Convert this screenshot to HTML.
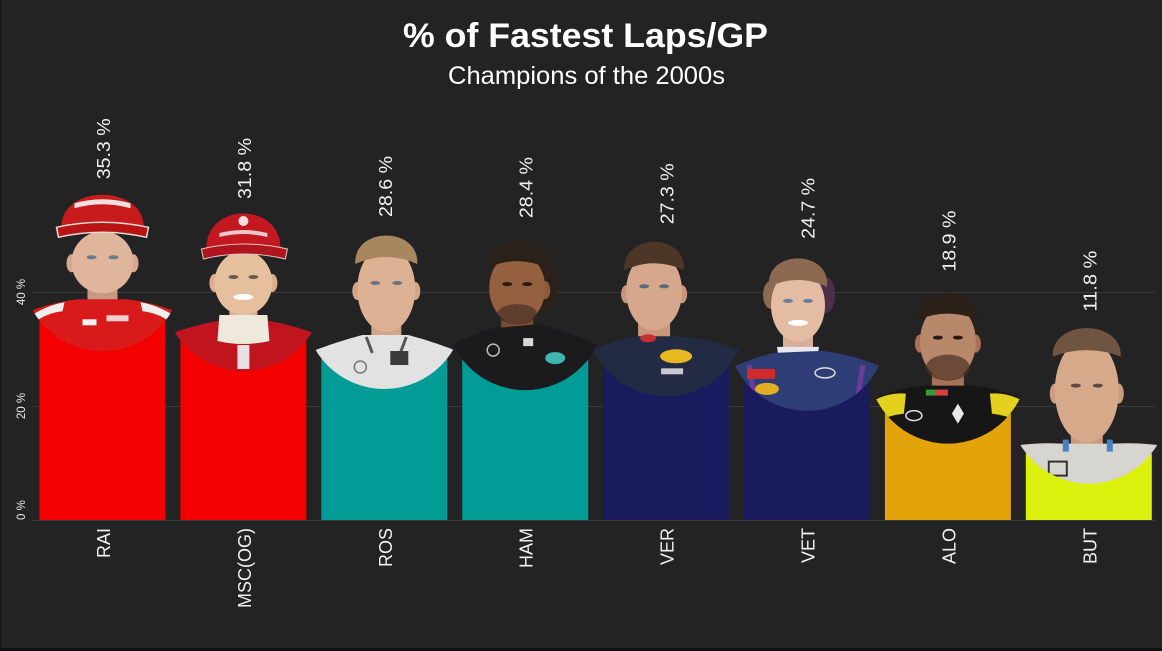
<!DOCTYPE html>
<html><head><meta charset="utf-8"><style>
html,body{margin:0;padding:0;background:#232323;}
svg{display:block;}
text{font-family:"Liberation Sans",sans-serif;}
</style></head><body>
<svg width="1162" height="651" viewBox="0 0 1162 651" xmlns="http://www.w3.org/2000/svg">
<defs><clipPath id="c" clipPathUnits="userSpaceOnUse"><circle cx="0" cy="0" r="80"/></clipPath></defs>
<rect x="0" y="0" width="1162" height="651" fill="#232323"/>
<rect x="0" y="0" width="1" height="651" fill="#161616"/>
<rect x="0" y="648" width="1162" height="3" fill="#0f0f0f"/>
<!-- grid -->
<g stroke="#3a3a3a" stroke-width="1">
<line x1="33" y1="292.5" x2="1155" y2="292.5"/>
<line x1="33" y1="406.5" x2="1155" y2="406.5"/>
<line x1="33" y1="520.5" x2="1155" y2="520.5"/>
</g>
<!-- title -->
<text x="585.5" y="47" text-anchor="middle" font-size="34" font-weight="bold" fill="#ffffff" textLength="365" lengthAdjust="spacingAndGlyphs">% of Fastest Laps/GP</text>
<text x="586.5" y="84" text-anchor="middle" font-size="25" fill="#ffffff" textLength="277" lengthAdjust="spacingAndGlyphs">Champions of the 2000s</text>
<!-- y ticks -->
<g font-size="11.5" fill="#e6e6e6">
<text transform="translate(25,292) rotate(-90)" text-anchor="middle">40 %</text>
<text transform="translate(25,406) rotate(-90)" text-anchor="middle">20 %</text>
<text transform="translate(25,520) rotate(-90)" text-anchor="start">0 %</text>
</g>
<!-- bars -->
<rect x="39.5" y="321.3" width="126" height="198.7" fill="#f40000"/>
<rect x="180.4" y="341" width="126" height="179" fill="#f40000"/>
<rect x="321.3" y="359" width="126" height="161" fill="#029b95"/>
<rect x="462.2" y="360.1" width="126" height="159.9" fill="#029b95"/>
<rect x="603.1" y="366.3" width="126" height="153.7" fill="#1a1a5e"/>
<rect x="744" y="380.9" width="126" height="139.1" fill="#1a1a5e"/>
<rect x="884.9" y="413.6" width="126" height="106.4" fill="#e2a40a"/>
<rect x="1025.8" y="453.6" width="126" height="66.4" fill="#dcf00e"/>

<!-- RAI -->
<g transform="translate(102.5,271.3)"><g clip-path="url(#c)">
<rect x="-15" y="0" width="30" height="40" fill="#c89880"/>
<ellipse cx="-31" cy="-8" rx="5" ry="9" fill="#d6a88e"/><ellipse cx="31" cy="-8" rx="5" ry="9" fill="#d6a88e"/>
<ellipse cx="0" cy="-9" rx="31" ry="31" fill="#dfb59b"/>
<ellipse cx="-11" cy="-14" rx="5" ry="2" fill="#6a7a88"/><ellipse cx="11" cy="-14" rx="5" ry="2" fill="#6a7a88"/>
<path d="M-95 50 Q-60 32 -24 28 L24 28 Q60 32 95 50 L95 100 L-95 100Z" fill="#d91a1a"/>
<path d="M-74 46 Q-56 34 -38 31 L-40 40 Q-58 42 -72 54Z" fill="#eeeeee"/>
<path d="M74 46 Q56 34 38 31 L40 40 Q58 42 72 54Z" fill="#eeeeee"/>
<rect x="-20" y="48" width="14" height="6" fill="#f4f4f4"/><rect x="4" y="44" width="22" height="6" fill="#f0d0d0"/>
<path d="M-41 -42 C-44 -88 44 -88 41 -42 Z" fill="#c81c1c"/>
<path d="M-28 -68 Q0 -76 28 -68 L28 -63 Q0 -71 -28 -63Z" fill="#f0e0e0"/>
<path d="M-46 -44 Q0 -54 46 -44 L44 -34 Q0 -44 -44 -34Z" fill="#b81414" stroke="#e8d8d8" stroke-width="1.5"/>
</g></g>

<!-- MSC -->
<g transform="translate(243.4,291)"><g clip-path="url(#c)">
<rect x="-14" y="5" width="28" height="40" fill="#dcae90"/>
<ellipse cx="-29" cy="-8" rx="5" ry="9" fill="#dcac90"/><ellipse cx="29" cy="-8" rx="5" ry="9" fill="#dcac90"/>
<ellipse cx="0" cy="-8" rx="29" ry="32" fill="#e6bf9f"/>
<ellipse cx="-10" cy="-14" rx="5" ry="2" fill="#6a5a50"/><ellipse cx="10" cy="-14" rx="5" ry="2" fill="#6a5a50"/>
<ellipse cx="0" cy="6" rx="10" ry="3" fill="#ffffff"/>
<path d="M-95 52 Q-60 36 -26 30 L26 30 Q60 36 95 52 L95 100 L-95 100Z" fill="#c0141e"/>
<path d="M-24 24 L24 24 L26 50 Q0 56 -26 50Z" fill="#efe9dc"/>
<rect x="-6" y="54" width="12" height="24" fill="#e8e0e0"/>
<path d="M-37 -40 C-40 -90 40 -90 37 -40Z" fill="#c31822"/>
<circle cx="0" cy="-70" r="5" fill="#f2dede"/>
<path d="M-24 -58 Q0 -64 24 -58 L24 -54 Q0 -60 -24 -54Z" fill="#e8c8c8"/>
<path d="M-42 -42 Q0 -52 44 -42 L42 -32 Q0 -42 -40 -32Z" fill="#b0141c" stroke="#e0c8c8" stroke-width="1"/>
</g></g>

<!-- ROS -->
<g transform="translate(384.3,309)"><g clip-path="url(#c)">
<rect x="-13" y="-2" width="30" height="45" fill="#d4a486"/>
<ellipse cx="-27" cy="-18" rx="5" ry="9" fill="#d4a486"/><ellipse cx="31" cy="-18" rx="5" ry="9" fill="#d4a486"/>
<ellipse cx="2" cy="-20" rx="29" ry="43" fill="#ddb194"/>
<path d="M-29 -45 C-31 -83 35 -83 33 -45 Q2 -59 -29 -45Z" fill="#a8865e"/>
<ellipse cx="-9" cy="-26" rx="5" ry="2" fill="#6a7480"/><ellipse cx="13" cy="-26" rx="5" ry="2" fill="#6a7480"/>
<path d="M-95 52 Q-60 36 -22 26 L24 26 Q62 36 95 52 L95 100 L-95 100Z" fill="#e2e2e2"/>
<path d="M-18 28 L-12 44 M22 28 L16 44" stroke="#555" stroke-width="3"/>
<rect x="6" y="42" width="18" height="14" fill="#3a3a3a"/>
<circle cx="-24" cy="58" r="6" fill="none" stroke="#777" stroke-width="1.5"/>
</g></g>

<!-- HAM -->
<g transform="translate(525.2,310.1)"><g clip-path="url(#c)">
<ellipse cx="22" cy="-28" rx="11" ry="28" fill="#2a211b"/>
<rect x="-24" y="-10" width="32" height="40" fill="#7a4a34"/>
<ellipse cx="20" cy="-20" rx="5" ry="9" fill="#8a5a3c"/>
<ellipse cx="-8" cy="-22" rx="28" ry="35.5" fill="#94603f"/>
<path d="M-38 -42 C-40 -78 24 -78 22 -42 Q-8 -56 -38 -42Z" fill="#2a211b"/>
<ellipse cx="-8" cy="4" rx="20" ry="10" fill="#3a2a22" opacity="0.6"/>
<ellipse cx="-18" cy="-26" rx="5" ry="2" fill="#2a1a12"/><ellipse cx="2" cy="-26" rx="5" ry="2" fill="#2a1a12"/>
<path d="M-95 48 Q-55 22 -30 18 L14 14 Q60 26 95 48 L95 100 L-95 100Z" fill="#1b1b1d"/>
<ellipse cx="30" cy="48" rx="10" ry="6" fill="#3fb7b0"/>
<circle cx="-32" cy="40" r="6" fill="none" stroke="#bbb" stroke-width="1.5"/>
<rect x="-2" y="28" width="10" height="8" fill="#d8d8d8"/>
</g></g>

<!-- VER -->
<g transform="translate(666.1,316.3)"><g clip-path="url(#c)">
<rect x="-28" y="-6" width="32" height="40" fill="#c9967c"/>
<ellipse cx="-40" cy="-22" rx="5" ry="9" fill="#c9967c"/><ellipse cx="16" cy="-22" rx="5" ry="9" fill="#c9967c"/>
<ellipse cx="-12" cy="-25" rx="28" ry="39" fill="#d6a68d"/>
<path d="M-42 -46 C-44 -84 20 -84 18 -46 Q-12 -60 -42 -46Z" fill="#4b3628"/>
<ellipse cx="-22" cy="-30" rx="5" ry="2" fill="#5a6a78"/><ellipse cx="-2" cy="-30" rx="5" ry="2" fill="#5a6a78"/>
<path d="M-95 44 Q-60 26 -32 20 L8 20 Q55 22 95 44 L95 100 L-95 100Z" fill="#222a44"/>
<ellipse cx="10" cy="40" rx="16" ry="7" fill="#e8b820"/>
<ellipse cx="-18" cy="22" rx="8" ry="4" fill="#c83030"/>
<rect x="-5" y="52" width="22" height="6" fill="#c8c8d0"/>
</g></g>

<!-- VET -->
<g transform="translate(807,330.9)"><g clip-path="url(#c)">
<ellipse cx="-36" cy="-36" rx="8" ry="14" fill="#8c6a52"/><ellipse cx="19" cy="-36" rx="9" ry="18" fill="#4a3048"/>
<rect x="-24" y="-8" width="30" height="40" fill="#d8ae98"/>
<ellipse cx="-9" cy="-25.5" rx="27" ry="36.5" fill="#e4bca4"/>
<path d="M-38 -44 C-42 -82 24 -82 20 -44 Q-9 -58 -38 -44Z" fill="#8c6a52"/>
<ellipse cx="-19" cy="-30" rx="5" ry="2" fill="#6a80a0"/><ellipse cx="1" cy="-30" rx="5" ry="2" fill="#6a80a0"/>
<ellipse cx="-9" cy="-8" rx="10" ry="3" fill="#ffffff"/>
<path d="M-30 16 L12 16 L10 30 L-28 30Z" fill="#e8e8f0"/>
<path d="M-95 46 Q-55 26 -32 22 L14 20 Q55 24 95 46 L95 100 L-95 100Z" fill="#2f3d76"/>
<path d="M-58 34 L-52 70 M56 34 L50 70" stroke="#6a3c9a" stroke-width="5"/>
<rect x="-60" y="38" width="28" height="10" fill="#d02a2a"/>
<ellipse cx="-40" cy="58" rx="12" ry="6" fill="#e0b020"/>
<ellipse cx="18" cy="42" rx="10" ry="5" fill="none" stroke="#ddd" stroke-width="1.5"/>
</g></g>

<!-- ALO -->
<g transform="translate(947.9,363.6)"><g clip-path="url(#c)">
<rect x="-16" y="-6" width="32" height="40" fill="#a87258"/>
<ellipse cx="-28" cy="-20" rx="5" ry="9" fill="#a87258"/><ellipse cx="28" cy="-20" rx="5" ry="9" fill="#a87258"/>
<ellipse cx="0" cy="-22" rx="28" ry="38" fill="#b98769"/>
<ellipse cx="0" cy="4" rx="22" ry="13" fill="#4a3224" opacity="0.7"/>
<path d="M-30 -44 C-32 -80 32 -80 30 -44 Q0 -56 -30 -44Z" fill="#2b2018"/>
<ellipse cx="-10" cy="-26" rx="5" ry="2" fill="#2a1a12"/><ellipse cx="10" cy="-26" rx="5" ry="2" fill="#2a1a12"/>
<path d="M-95 46 Q-60 26 -26 22 L26 22 Q60 26 95 46 L95 100 L-95 100Z" fill="#161616"/>
<path d="M-80 40 Q-60 28 -42 30 L-44 50 Q-62 52 -80 62Z" fill="#e3d11e"/>
<path d="M80 40 Q60 28 42 30 L44 50 Q62 52 80 62Z" fill="#e3d11e"/>
<rect x="-22" y="26" width="10" height="6" fill="#3a9a3a"/><rect x="-12" y="26" width="12" height="6" fill="#d84040"/>
<ellipse cx="-34" cy="52" rx="8" ry="5" fill="none" stroke="#ddd" stroke-width="1.5"/>
<path d="M4 50 L10 40 L16 50 L10 60Z" fill="#e8e8e8"/>
</g></g>

<!-- BUT -->
<g transform="translate(1088.8,403.6)"><g clip-path="url(#c)">
<rect x="-18" y="20" width="32" height="30" fill="#c8987c"/>
<ellipse cx="-34" cy="-10" rx="5" ry="10" fill="#cc9c80"/><ellipse cx="30" cy="-10" rx="5" ry="10" fill="#cc9c80"/>
<ellipse cx="-2" cy="-13" rx="32" ry="52" fill="#d7a98b"/>
<path d="M-36 -47 C-38 -85 34 -85 32 -47 Q-2 -60 -36 -47Z" fill="#6f5441"/>
<ellipse cx="-13" cy="-18" rx="5" ry="2" fill="#5a4a40"/><ellipse cx="9" cy="-18" rx="5" ry="2" fill="#5a4a40"/>
<path d="M-95 46 Q-60 38 -28 40 L24 40 Q60 38 95 46 L95 100 L-95 100Z" fill="#d6d5cf"/>
<rect x="-26" y="36" width="6" height="12" fill="#4a80c0"/><rect x="18" y="36" width="6" height="12" fill="#4a80c0"/>
<rect x="-40" y="58" width="18" height="14" fill="none" stroke="#333" stroke-width="2"/>
</g></g>

<!-- value labels -->
<g font-size="18" fill="#f2f2f2">
<text transform="translate(110,179.3) rotate(-90)" textLength="61" lengthAdjust="spacingAndGlyphs">35.3 %</text>
<text transform="translate(250.9,199) rotate(-90)" textLength="61" lengthAdjust="spacingAndGlyphs">31.8 %</text>
<text transform="translate(391.8,217) rotate(-90)" textLength="61" lengthAdjust="spacingAndGlyphs">28.6 %</text>
<text transform="translate(532.7,218.1) rotate(-90)" textLength="61" lengthAdjust="spacingAndGlyphs">28.4 %</text>
<text transform="translate(673.6,224.3) rotate(-90)" textLength="61" lengthAdjust="spacingAndGlyphs">27.3 %</text>
<text transform="translate(814.5,238.9) rotate(-90)" textLength="61" lengthAdjust="spacingAndGlyphs">24.7 %</text>
<text transform="translate(955.4,271.6) rotate(-90)" textLength="61" lengthAdjust="spacingAndGlyphs">18.9 %</text>
<text transform="translate(1096.3,311.6) rotate(-90)" textLength="61" lengthAdjust="spacingAndGlyphs">11.8 %</text>
</g>
<!-- category labels -->
<g font-size="18" fill="#f2f2f2" text-anchor="end">
<text transform="translate(110,528) rotate(-90)">RAI</text>
<text transform="translate(250.9,528) rotate(-90)">MSC(OG)</text>
<text transform="translate(391.8,528) rotate(-90)">ROS</text>
<text transform="translate(532.7,528) rotate(-90)">HAM</text>
<text transform="translate(673.6,528) rotate(-90)">VER</text>
<text transform="translate(814.5,528) rotate(-90)">VET</text>
<text transform="translate(955.4,528) rotate(-90)">ALO</text>
<text transform="translate(1096.3,528) rotate(-90)">BUT</text>
</g>
</svg>
</body></html>
